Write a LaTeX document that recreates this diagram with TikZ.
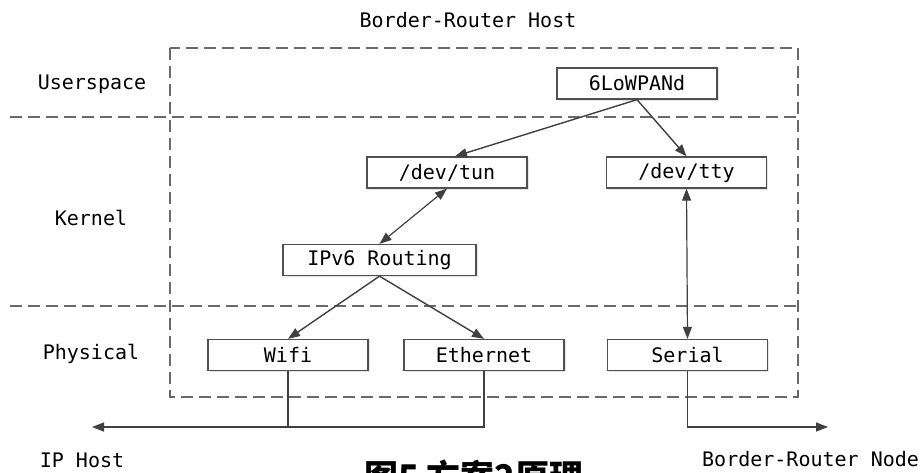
\documentclass[tikz,border=0pt]{standalone}
\usepackage{xcolor}
\usepackage{fontspec}
\setmonofont{DejaVu Sans Mono}
\newfontfamily\cjk{Noto Sans CJK SC}
\usepackage{tikz}
\usetikzlibrary{arrows.meta, shadows}
\definecolor{mydark}{RGB}{64,64,64}
\definecolor{myline}{RGB}{80,80,80}
\definecolor{mydash}{RGB}{105,105,105}
\tikzset{
  unit/.style={rectangle, draw=myline, fill=white, line width=1.3pt,
    minimum width=160pt, minimum height=31pt, inner sep=0pt,
    font=\fontsize{20}{24}\selectfont\ttfamily,
    drop shadow={shadow xshift=1.5pt, shadow yshift=-1.5pt, opacity=0.2}},
  label/.style={font=\fontsize{20}{24}\selectfont\ttfamily, inner sep=0pt},
  zone/.style={draw=mydash, line width=2pt, dash pattern=on 12pt off 6pt},
  arrow/.style={-{Triangle[length=12pt, width=9pt]}, line width=1.4pt, color=mydark},
  twoway/.style={{Triangle[length=12pt, width=9pt]}-{Triangle[length=12pt, width=9pt]}, line width=1.2pt, color=mydark},
  link/.style={line width=1.3pt, color=mydark}
}
\begin{document}
\begin{tikzpicture}[x=1pt, y=-1pt]
  \clip (0,0) rectangle (921,472);
  \fill[white] (0,0) rectangle (921,472);

  % Host boundary and layers
  \draw[zone] (170,48) rectangle (798,397);
  \draw[zone] (10,117) -- (798,117);
  \draw[zone] (10,306) -- (798,306);

  \node[label] (host) at (468,20) {Border-Router Host};
  \node[label] (user) at (92,84) {Userspace};
  \node[label] (kern) at (91,218) {Kernel};
  \node[label] (phys) at (91,354) {Physical};

  % Blocks
  \node[unit] (lowpan) at (637,83.5) {6LoWPANd};
  \node[unit] (tun) at (447,172.5) {/dev/tun};
  \node[unit] (tty) at (686.5,172.5) {/dev/tty};
  \node[unit, minimum width=193pt] (route) at (379.5,260) {IPv6 Routing};
  \node[unit] (wifi) at (288,355) {Wifi};
  \node[unit] (eth) at (484,355) {Ethernet};
  \node[unit] (serial) at (687.5,355) {Serial};

  \coordinate (iphost) at (92,427);
  \coordinate (brnode) at (828,427);

  % Edges
  \draw[arrow] (lowpan.south) -- ([xshift=8pt]tun.north);
  \draw[arrow] (lowpan.south) -- (tty.north);
  \draw[twoway] (tun.south) -- (route.north);
  \draw[twoway] (tty.south) -- (serial.north);
  \draw[arrow] (route.south) -- (wifi.north);
  \draw[arrow] (route.south) -- (eth.north);

  \draw[link] (wifi.south) -- (wifi.south |- iphost);
  \draw[arrow] (eth.south) |- (iphost);
  \draw[arrow] (serial.south) |- (brnode);

  \node[label] (iplbl) at (82,460) {IP Host};
  \node[label, anchor=west] (brlbl) at (702,459) {Border-Router Node};

  % Caption (cut at the lower edge)
  \node[anchor=base west, inner sep=0pt, font=\fontsize{34}{40}\selectfont\cjk\bfseries] (cap) at (364,489) {图5 方案2原理};
\end{tikzpicture}
\end{document}
